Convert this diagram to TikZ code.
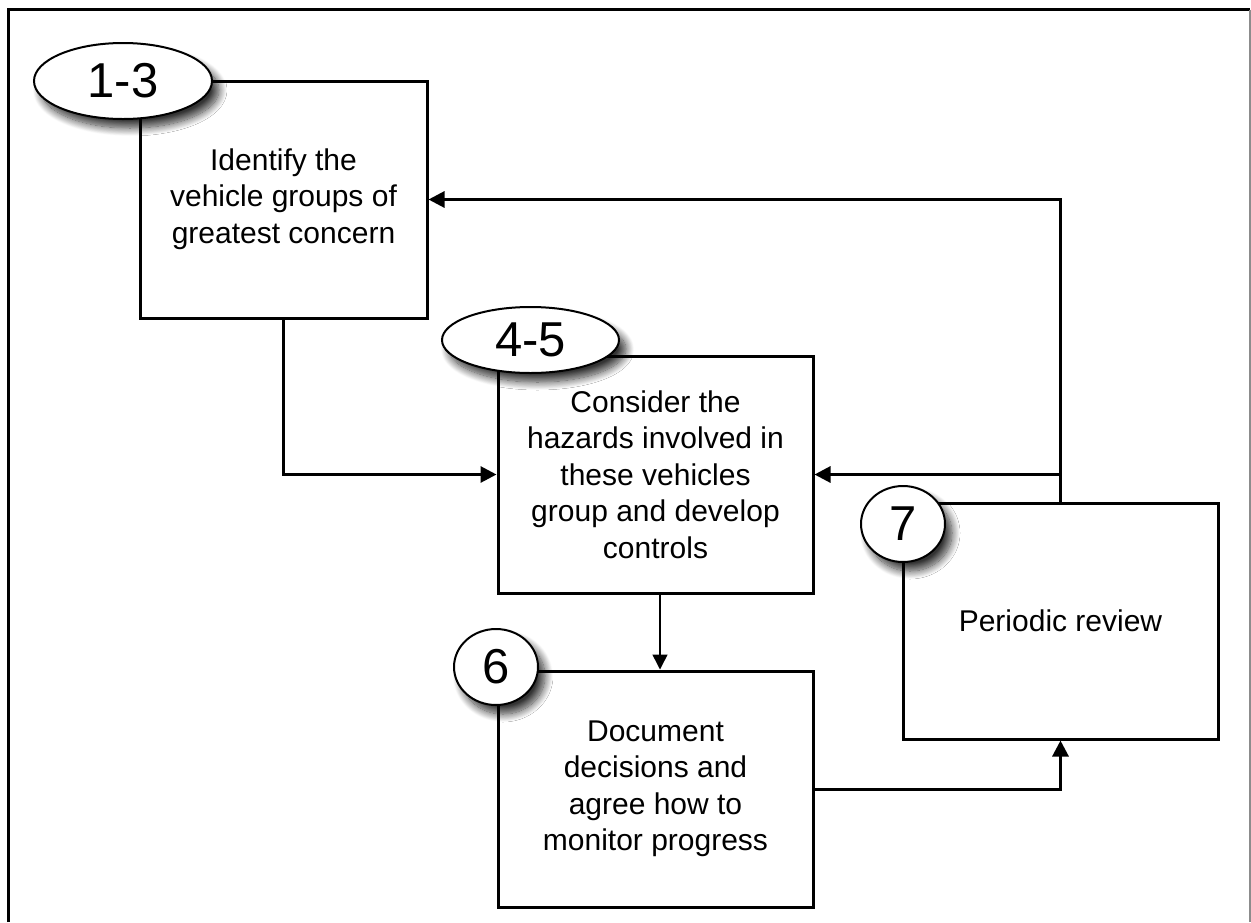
\documentclass[tikz,border=0pt]{standalone}
\usepackage{fontspec}
\setmainfont{Liberation Sans}
\usetikzlibrary{arrows.meta,shadows,shadows.blur,calc,shapes.geometric}
\begin{document}
\begin{tikzpicture}[x=1pt,y=-1pt,
  stepbox/.style={draw=black,line width=3pt,fill=white,align=center,inner sep=0pt,
    font=\fontsize{30}{36.5}\selectfont},
  badge/.style={draw=black,line width=2pt,fill=white,inner sep=0pt,
    font=\fontsize{49}{49}\selectfont,
    blur shadow={shadow xshift=7pt,shadow yshift=-9pt,shadow blur steps=14,
      shadow blur radius=8pt,shadow opacity=80}},
  conn/.style={line width=3pt,-{Triangle[length=16pt,width=16pt]}},
  thinconn/.style={line width=1.5pt,-{Triangle[length=15pt,width=15pt]}}]
\useasboundingbox (0,0) rectangle (1251,922);
% frame
\draw[line width=3pt,black] (8,922) -- (8,9.5) -- (1250,9.5);
\draw[line width=1.5pt,black!45] (1250,9.5) -- (1250,922);
% boxes
\node[stepbox,minimum width=287pt,minimum height=237pt] (b1) at (283.5,199.5)
  {\raisebox{-4pt}{\begin{tabular}{@{}c@{}}Identify the\\vehicle groups of\\greatest concern\end{tabular}}};
\node[stepbox,minimum width=315pt,minimum height=237pt] (b2) at (655.5,474.5)
  {Consider the\\hazards involved in\\these vehicles\\group and develop\\controls};
\node[stepbox,minimum width=315pt,minimum height=236pt] (b6) at (655.5,789)
  {Document\\decisions and\\agree how to\\monitor progress};
\node[stepbox,minimum width=315pt,minimum height=236pt] (b7) at (1060.5,621)
  {Periodic review};
% badges
\node[badge,ellipse,minimum width=178pt,minimum height=76pt] (e13) at (123,81) {1-3};
\node[badge,ellipse,minimum width=177pt,minimum height=66pt] (e45) at (530.5,340) {4-5};
\node[badge,ellipse,minimum width=84pt,minimum height=76pt] (e6) at (496,667) {6};
\node[badge,ellipse,minimum width=84pt,minimum height=76pt] (e7) at (903,524) {7};
% connectors
\draw[conn] (b1.south) |- (b2.west);
\coordinate (jn) at (b7.north |- b2.east);
\draw[conn] (b7.north) |- (b1.east);
\draw[conn] (jn) -- (b2.east);
\draw[thinconn] ($(b2.south)+(4.5,0)$) -- ($(b6.north)+(4.5,0)$);
\draw[conn] (b6.east) -| (b7.south);
\end{tikzpicture}
\end{document}
